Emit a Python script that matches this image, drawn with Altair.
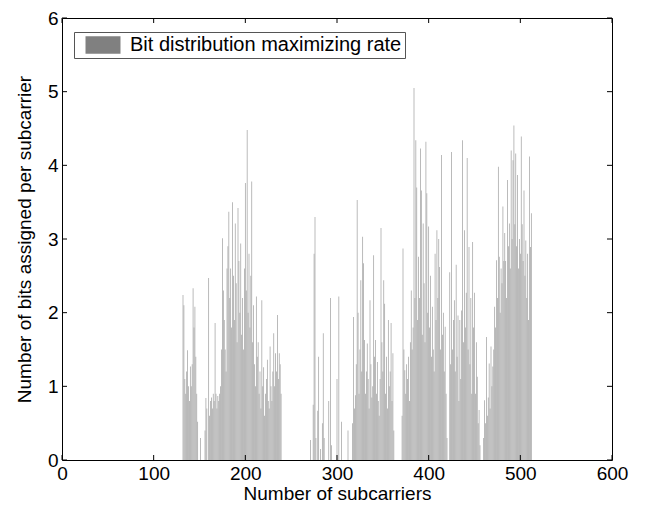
import altair as alt
import pandas as pd

legend_label = "Bit distribution maximizing rate"

# Subcarriers 132..239
seg1_start = 132
seg1_bits = [
    2.24, 2.1, 1.1, 0.9, 1.2, 1.49, 1.0, 0.8, 1.27, 1.0,
    1.3, 2.33, 1.8, 2.08, 1.4, 0.9, 0.52, 0, 0, 0.3,
    0, 0, 0, 0, 0.4, 0.84, 0.7, 0, 2.47, 0.6,
    0.8, 0.85, 0.7, 0.9, 0.8, 1.86, 0.9, 0.7, 0.87, 0.8,
    0.9, 1.0, 1.5, 3.01, 2.3, 1.9, 1.5, 1.2, 2.6, 2.9,
    3.37, 2.2, 2.6, 1.8, 3.5, 2.5, 1.9, 3.21, 2.4, 1.6,
    3.42, 2.7, 2.0, 2.94, 1.7, 2.2, 1.5, 2.6, 3.76, 2.3,
    4.48, 2.0, 2.8, 1.8, 2.5, 3.78, 1.6, 2.1, 1.3, 1.0,
    2.22, 1.4, 1.6, 0.9, 1.2, 0.7, 2.17, 1.0, 1.26, 0.6,
    0.9, 1.1, 1.36, 0.8, 0.7, 1.54, 1.0, 0.8, 1.2, 1.72,
    1.0, 1.45, 1.2, 1.97, 1.1, 1.45, 1.3, 0.9,
]

# Subcarriers 270..362
seg2_start = 270
seg2_bits = [
    0, 0.27, 0, 0, 0.75, 2.8, 3.3, 0.3, 0, 0.67,
    1.4, 0, 0.15, 0, 0.5, 1.72, 0.3, 0, 0, 0,
    0, 0.8, 0, 2.2, 0.2, 0, 0, 0, 0, 0,
    1.1, 0, 2.22, 0, 0, 0.52, 0, 0, 0, 0,
    0, 0, 0.4, 0, 0, 0, 0, 0.5, 1.94, 0.7,
    0.88, 1.3, 3.53, 2.0, 0.9, 1.5, 2.44, 1.2, 3.03, 2.67,
    1.63, 0.9, 1.2, 1.58, 1.1, 0.7, 2.17, 1.3, 0.85, 1.0,
    2.78, 1.4, 1.63, 0.9, 1.33, 0.8, 0.6, 1.1, 3.15, 1.6,
    1.2, 2.44, 2.12, 0.9, 1.4, 0.7, 1.9, 1.0, 1.2, 1.86,
    0.8, 1.45, 0.4,
]

# Subcarriers 371..512
seg3_start = 371
seg3_bits = [
    0.6, 2.87, 1.5, 1.22, 0.9, 1.3, 1.1, 1.4, 0.8,
    1.6, 2.3, 1.5, 1.8, 5.05, 2.2, 4.34, 3.7, 1.9, 2.76,
    2.2, 4.23, 3.66, 1.7, 3.21, 2.4, 1.6, 4.32, 3.62, 2.0,
    3.17, 1.8, 2.5, 1.4, 2.08, 1.5, 1.2, 2.8, 1.9, 3.12,
    2.2, 3.0, 2.62, 1.5, 4.14, 1.7, 2.0, 1.2, 1.81, 0.9,
    0.3, 0, 0, 2.55, 1.3, 4.18, 1.5, 1.9, 2.17, 1.2,
    2.65, 1.4, 1.96, 0.8, 1.9, 1.1, 2.03, 4.34, 1.6, 3.12,
    1.8, 2.27, 4.1, 1.5, 2.89, 1.3, 2.2, 0.9, 2.96, 1.8,
    2.27, 0.9, 1.6, 1.13, 0.5, 0.68, 0.2, 0, 0, 0,
    0.3, 0.81, 0.5, 1.67, 0.6, 0.85, 1.31, 0.7, 1.54, 1.0,
    1.27, 1.5, 2.08, 1.8, 2.71, 2.2, 3.98, 2.76, 2.0, 2.6,
    2.4, 3.44, 2.7, 3.08, 2.7, 2.2, 3.8, 2.9, 3.21, 2.6,
    4.2, 3.0, 4.07, 4.54, 3.2, 4.16, 2.9, 3.87, 2.6, 3.0,
    2.8, 4.39, 3.2, 2.7, 3.66, 2.5, 2.98, 2.2, 2.8, 1.9,
    4.12, 2.89, 3.35,
]

x_ticks = [0, 100, 200, 300, 400, 500, 600]
y_ticks = [0, 1, 2, 3, 4, 5, 6]

rows = []
for start, vals in ((seg1_start, seg1_bits), (seg2_start, seg2_bits), (seg3_start, seg3_bits)):
    for i, v in enumerate(vals):
        rows.append({"n": start + i, "bits": v})
df = pd.DataFrame(rows)

W, H = 550, 442
FONT = "Liberation Sans"
FS_AXIS = 19
FS_LEGEND = 20
BAR_COLOR = "#a2a2a2"
SWATCH_COLOR = "#808080"

xscale = alt.Scale(domain=[0, 600], nice=False, zero=False, padding=0)
yscale = alt.Scale(domain=[0, 6], nice=False, padding=0)

x_axis = alt.Axis(
    values=x_ticks, title="Number of subcarriers", labelPadding=4,
    titlePadding=1, labelFlush=False,
)
y_axis = alt.Axis(
    values=y_ticks, title="Number of bits assigned per subcarrier",
    labelPadding=4, titlePadding=13, labelFlush=False,
)

bars = (
    alt.Chart(df)
    .transform_calculate(x0="datum.n - 0.4", x1="datum.n + 0.4", base="0")
    .mark_bar(strokeWidth=0, color=BAR_COLOR)
    .encode(
        x=alt.X("x0:Q", scale=xscale, axis=x_axis),
        x2="x1:Q",
        y=alt.Y("bits:Q", scale=yscale, axis=y_axis),
        y2="base:Q",
    )
)

# zero-size entry that only carries the legend
legend_df = pd.DataFrame({"series": [legend_label], "n": [0], "bits": [0]})
legend_layer = (
    alt.Chart(legend_df)
    .mark_bar(strokeWidth=0)
    .encode(
        x=alt.X("n:Q", scale=xscale, axis=x_axis),
        x2="n:Q",
        y=alt.Y("bits:Q", scale=yscale, axis=y_axis),
        y2="bits:Q",
        color=alt.Color(
            "series:N",
            scale=alt.Scale(range=[SWATCH_COLOR]),
            legend=alt.Legend(
                title=None,
                orient="none",
                legendX=12,
                legendY=14,
                symbolType="M-2,-1L2,-1L2,1L-2,1Z",
                symbolSize=306,
                symbolStrokeWidth=0,
                strokeColor="#555555",
                fillColor="white",
                padding=3,
                labelFontSize=FS_LEGEND,
                labelFont=FONT,
                labelColor="black",
                labelLimit=500,
                symbolOffset=16,
                labelOffset=17,
            ),
        ),
    )
)

tdf_x = pd.DataFrame({"t": x_ticks})
tdf_y = pd.DataFrame({"t": y_ticks})
tick_len = 5

xt_bottom = alt.Chart(tdf_x).mark_rule(color="black", strokeWidth=1).encode(
    x=alt.X("t:Q", scale=xscale, axis=x_axis), y=alt.value(H), y2=alt.value(H - tick_len)
)
xt_top = alt.Chart(tdf_x).mark_rule(color="black", strokeWidth=1).encode(
    x=alt.X("t:Q", scale=xscale, axis=x_axis), y=alt.value(0), y2=alt.value(tick_len)
)
yt_left = alt.Chart(tdf_y).mark_rule(color="black", strokeWidth=1).encode(
    y=alt.Y("t:Q", scale=yscale, axis=y_axis), x=alt.value(0), x2=alt.value(tick_len)
)
yt_right = alt.Chart(tdf_y).mark_rule(color="black", strokeWidth=1).encode(
    y=alt.Y("t:Q", scale=yscale, axis=y_axis), x=alt.value(W), x2=alt.value(W - tick_len)
)

chart = (
    alt.layer(bars, legend_layer, xt_bottom, xt_top, yt_left, yt_right)
    .properties(
        width=W,
        height=H,
        autosize=alt.AutoSizeParams(type="none"),
        padding={"left": 62, "top": 18, "right": 37, "bottom": 49},
    )
    .configure(background="white")
    .configure_view(stroke="black", strokeWidth=1)
    .configure_axis(
        domain=False, ticks=False, grid=False,
        labelFont=FONT, titleFont=FONT, labelFontSize=FS_AXIS, titleFontSize=FS_AXIS,
        labelColor="black", titleColor="black", titleFontWeight="normal",
    )
)

chart.save("out.html", embed_options={"renderer": "svg", "actions": False})
